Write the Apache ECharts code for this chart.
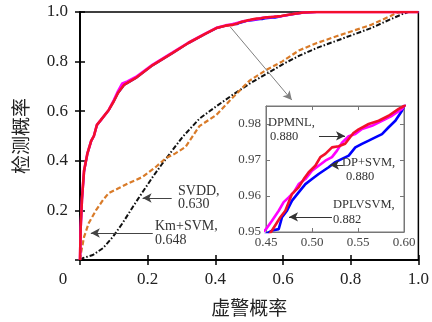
<!DOCTYPE html>
<html lang="zh-CN">
<head>
  <meta charset="UTF-8">
  <title>ROC 曲线</title>
  <script src="https://cdn.jsdelivr.net/npm/echarts@6.0.0/dist/echarts.min.js"></script>
  <style>
    html, body { margin: 0; padding: 0; background: #fff; }
    #chart { width: 432px; height: 322px; }
  </style>
</head>
<body>
  <div id="chart"></div>
  <script>
    // --- 数据 ---
    const insetXRange = [0.45, 0.60];
    const insetYRange = [0.95, 0.985];

    // DPMNL（品红）
    const dpmnlPts = [
      [0, 0], [0.002, 0.13], [0.006, 0.25], [0.012, 0.36], [0.022, 0.43], [0.033, 0.48],
      [0.041, 0.5], [0.05, 0.545], [0.062, 0.565], [0.085, 0.605], [0.1, 0.645], [0.112, 0.68],
      [0.125, 0.712], [0.14, 0.72], [0.165, 0.738], [0.215, 0.788], [0.274, 0.837], [0.32, 0.876],
      [0.37, 0.913], [0.403, 0.936], [0.43, 0.946],
      [0.45, 0.9508], [0.4565, 0.9531], [0.4638, 0.9559], [0.4692, 0.9583], [0.4746, 0.9596],
      [0.4801, 0.961], [0.4855, 0.9633], [0.4928, 0.9647], [0.5, 0.967], [0.5072, 0.9684],
      [0.5145, 0.9698], [0.5217, 0.9708], [0.5272, 0.9726], [0.5326, 0.9748], [0.5399, 0.9766],
      [0.5471, 0.9772], [0.5543, 0.9786], [0.5652, 0.9795], [0.5761, 0.9809], [0.587, 0.9823],
      [0.5978, 0.9842], [0.6, 0.985], [0.63, 0.992], [0.66, 0.998], [0.7, 1], [1, 1]
    ];
    // DP+SVM（蓝）
    const dpsvmPts = [
      [0, 0], [0.002, 0.125], [0.006, 0.245], [0.012, 0.355], [0.022, 0.43], [0.033, 0.478],
      [0.041, 0.5], [0.05, 0.543], [0.062, 0.564], [0.085, 0.604], [0.1, 0.64], [0.112, 0.672],
      [0.13, 0.705], [0.165, 0.733], [0.215, 0.785], [0.274, 0.834], [0.32, 0.874],
      [0.37, 0.911], [0.403, 0.934], [0.43, 0.944],
      [0.45, 0.9495], [0.4565, 0.9504], [0.4638, 0.9508], [0.4674, 0.9541], [0.4728, 0.9559],
      [0.4783, 0.9587], [0.4855, 0.961], [0.4928, 0.9633], [0.5, 0.9647], [0.5072, 0.9661],
      [0.5181, 0.968], [0.5254, 0.9694], [0.5326, 0.9703], [0.5399, 0.9712], [0.5471, 0.9735],
      [0.5543, 0.9745], [0.5616, 0.9754], [0.5688, 0.9763], [0.5761, 0.9772], [0.5833, 0.9791],
      [0.5906, 0.9809], [0.5978, 0.9837], [0.6, 0.985], [0.63, 0.991], [0.66, 0.997], [0.7, 1], [1, 1]
    ];
    // DPLVSVM（红）
    const dplvsvmPts = [
      [0, 0], [0.002, 0.13], [0.006, 0.25], [0.012, 0.36], [0.022, 0.43], [0.033, 0.48],
      [0.041, 0.5], [0.05, 0.545], [0.062, 0.565], [0.085, 0.605], [0.1, 0.64], [0.112, 0.673],
      [0.13, 0.706], [0.165, 0.734], [0.215, 0.786], [0.274, 0.835], [0.32, 0.875],
      [0.37, 0.912], [0.403, 0.935], [0.43, 0.945],
      [0.45, 0.948], [0.4565, 0.9504], [0.4656, 0.9541], [0.471, 0.9559], [0.4783, 0.9606],
      [0.4855, 0.9624], [0.491, 0.9647], [0.4964, 0.9666], [0.5036, 0.9684], [0.5091, 0.9708],
      [0.5145, 0.9717], [0.5217, 0.9735], [0.529, 0.9738], [0.536, 0.9745], [0.545, 0.9775],
      [0.5507, 0.9785], [0.5616, 0.98], [0.5725, 0.9809], [0.5833, 0.9823], [0.5942, 0.9842],
      [0.6, 0.985], [0.63, 0.992], [0.66, 0.998], [0.7, 1], [1, 1]
    ];
    // SVDD（橙色虚线）
    const svddPts = [
      [0, 0], [0.003, 0.028], [0.012, 0.093], [0.026, 0.149], [0.047, 0.2], [0.068, 0.242],
      [0.085, 0.27], [0.115, 0.29], [0.144, 0.31], [0.185, 0.335], [0.224, 0.375], [0.253, 0.41],
      [0.282, 0.43], [0.312, 0.456], [0.353, 0.54], [0.403, 0.585], [0.45, 0.653], [0.5, 0.722],
      [0.55, 0.766], [0.597, 0.8], [0.647, 0.845], [0.7, 0.875], [0.76, 0.903], [0.86, 0.948],
      [0.918, 0.984], [0.935, 0.996], [0.95, 1], [1, 1]
    ];
    // Km+SVM（黑色点划线）
    const kmsvmPts = [
      [0, 0], [0.009, 0.008], [0.038, 0.02], [0.068, 0.048], [0.097, 0.093], [0.126, 0.149],
      [0.156, 0.214], [0.185, 0.274], [0.215, 0.335], [0.244, 0.39], [0.274, 0.444], [0.303, 0.496],
      [0.353, 0.57], [0.403, 0.62], [0.45, 0.665], [0.5, 0.71], [0.55, 0.75], [0.6, 0.79],
      [0.65, 0.825], [0.7, 0.855], [0.76, 0.885], [0.82, 0.915], [0.86, 0.935], [0.92, 0.972],
      [0.95, 0.99], [0.97, 1], [1, 1]
    ];

    // 注释箭头（数据坐标）
    const mainArrows = [
      [[0.444, 0.94], [0.626, 0.645], '#808080'],
      [[0.271, 0.25], [0.185, 0.25], '#444'],
      [[0.215, 0.109], [0.032, 0.109], '#444']
    ];
    const insetArrows = [
      [[0.5076, 0.9767], [0.5359, 0.9767]],
      [[0.5337, 0.9686], [0.5196, 0.9686]],
      [[0.5217, 0.9542], [0.475, 0.9542]]
    ];

    const chart = echarts.init(document.getElementById('chart'), null, { renderer: 'canvas' });

    const SERIF = 'Liberation Serif';
    const CJK = 'Noto Sans CJK SC';
    const fmt1 = v => v.toFixed(1);

    const arrowLine = (pairs, defColor, z) => ({
      silent: true,
      z: z,
      symbol: ['none', 'arrow'],
      symbolSize: [7, 9],
      label: { show: false },
      emphasis: { disabled: true },
      data: pairs.map(p => [
        { coord: p[0], lineStyle: { color: p[2] || defColor, width: 1, type: 'solid' } },
        { coord: p[1] }
      ])
    });

    const mainAxisCommon = {
      min: 0, max: 1, interval: 0.2,
      axisLine: { show: true, lineStyle: { color: '#000', width: 1.5 } },
      axisTick: { inside: true, length: 5, lineStyle: { color: '#000', width: 1.5 } },
      splitLine: { show: false }
    };
    const insetXCommon = {
      gridIndex: 1, min: insetXRange[0], max: insetXRange[1], interval: 0.05, z: 11,
      axisLine: { show: true, lineStyle: { color: '#777', width: 1 } },
      axisTick: { inside: true, length: 4, lineStyle: { color: '#777' } },
      splitLine: { show: false }
    };
    const insetYCommon = {
      gridIndex: 1, min: insetYRange[0], max: insetYRange[1], interval: 0.01, z: 11,
      axisLine: { show: true, lineStyle: { color: '#777', width: 1 } },
      axisTick: { inside: true, length: 4, lineStyle: { color: '#777' } },
      splitLine: { show: false }
    };

    const line = (data, color, width, type, x, y, z, extra) => Object.assign({
      type: 'line', data, xAxisIndex: x, yAxisIndex: y, z,
      showSymbol: false, symbol: 'none', animation: false, clip: true,
      lineStyle: { color, width, type }
    }, extra || {});

    const option = {
      animation: false,
      backgroundColor: '#fff',
      grid: [
        { left: 80, top: 12, width: 340, height: 248, show: true, borderColor: '#000', borderWidth: 1.5, backgroundColor: 'transparent' },
        { left: 266, top: 106, width: 138, height: 126, show: true, z: 10, borderColor: '#777', borderWidth: 1, backgroundColor: '#fff' }
      ],
      xAxis: [
        Object.assign({}, mainAxisCommon, {
          gridIndex: 0, type: 'value', position: 'bottom',
          name: '虚警概率', nameLocation: 'middle', nameGap: 38,
          nameTextStyle: { fontFamily: CJK, fontSize: 19, color: '#222' },
          axisLabel: {
            margin: 11, fontFamily: SERIF, fontSize: 17, color: '#222',
            formatter: v => v === 0 ? '{o|0}' : fmt1(v),
            rich: { o: { fontFamily: SERIF, fontSize: 17, color: '#222', padding: [0, 34, 0, 0] } }
          }
        }),
        Object.assign({}, mainAxisCommon, { gridIndex: 0, type: 'value', position: 'top', axisLabel: { show: false } }),
        Object.assign({}, insetXCommon, {
          type: 'value', position: 'bottom',
          axisLabel: { margin: 4, fontFamily: SERIF, fontSize: 13, color: '#444', formatter: v => v.toFixed(2) }
        }),
        Object.assign({}, insetXCommon, { type: 'value', position: 'top', axisLabel: { show: false } })
      ],
      yAxis: [
        Object.assign({}, mainAxisCommon, {
          gridIndex: 0, type: 'value', position: 'left',
          name: '检测概率', nameLocation: 'middle', nameGap: 50, nameRotate: 90,
          nameTextStyle: { fontFamily: CJK, fontSize: 19, color: '#222' },
          axisLabel: { margin: 12, fontFamily: SERIF, fontSize: 17, color: '#222', formatter: v => v === 0 ? '' : fmt1(v) }
        }),
        Object.assign({}, mainAxisCommon, { gridIndex: 0, type: 'value', position: 'right', axisLabel: { show: false } }),
        Object.assign({}, insetYCommon, {
          type: 'value', position: 'left',
          axisLabel: {
            margin: 5, fontFamily: SERIF, fontSize: 13, color: '#444',
            formatter: v => Math.abs(v - insetYRange[1]) < 1e-6 ? '' : v.toFixed(2)
          }
        }),
        Object.assign({}, insetYCommon, { type: 'value', position: 'right', axisLabel: { show: false } })
      ],
      series: [
        // 主图
        line(kmsvmPts, '#111', 2, [5, 2, 1.5, 2], 0, 0, 2),
        line(svddPts, '#d97b29', 2.2, [5, 2.5], 0, 0, 3, { markLine: arrowLine(mainArrows, '#444', 8) }),
        line(dpsvmPts, '#0000ff', 2, 'solid', 0, 0, 4),
        line(dpmnlPts, '#ff00ff', 2.6, 'solid', 0, 0, 5),
        line(dplvsvmPts, '#f2102a', 2.6, 'solid', 0, 0, 6),
        // 局部放大
        line(dpsvmPts, '#0000ff', 2.6, 'solid', 2, 2, 12),
        line(dpmnlPts, '#ff00ff', 2.6, 'solid', 2, 2, 13),
        line(dplvsvmPts, '#f2102a', 2.6, 'solid', 2, 2, 14, { markLine: arrowLine(insetArrows, '#333', 30) })
      ],
      graphic: [
        { type: 'text', z: 100, x: 178, y: 191, style: { text: 'SVDD,', font: `14px "${SERIF}"`, fill: '#333', verticalAlign: 'middle' } },
        { type: 'text', z: 100, x: 178, y: 204, style: { text: '0.630', font: `14px "${SERIF}"`, fill: '#333', verticalAlign: 'middle' } },
        { type: 'text', z: 100, x: 155, y: 226, style: { text: 'Km+SVM,', font: `14px "${SERIF}"`, fill: '#333', verticalAlign: 'middle' } },
        { type: 'text', z: 100, x: 155, y: 240, style: { text: '0.648', font: `14px "${SERIF}"`, fill: '#333', verticalAlign: 'middle' } },
        { type: 'text', z: 100, x: 268, y: 123, style: { text: 'DPMNL,', font: `12.5px "${SERIF}"`, fill: '#333', verticalAlign: 'middle' } },
        { type: 'text', z: 100, x: 270, y: 137, style: { text: '0.880', font: `12.5px "${SERIF}"`, fill: '#333', verticalAlign: 'middle' } },
        { type: 'text', z: 100, x: 342, y: 163, style: { text: 'DP+SVM,', font: `12.5px "${SERIF}"`, fill: '#333', verticalAlign: 'middle' } },
        { type: 'text', z: 100, x: 346, y: 177, style: { text: '0.880', font: `12.5px "${SERIF}"`, fill: '#333', verticalAlign: 'middle' } },
        { type: 'text', z: 100, x: 333, y: 205, style: { text: 'DPLVSVM,', font: `12.5px "${SERIF}"`, fill: '#333', verticalAlign: 'middle' } },
        { type: 'text', z: 100, x: 333, y: 220, style: { text: '0.882', font: `12.5px "${SERIF}"`, fill: '#333', verticalAlign: 'middle' } }
      ]
    };

    chart.setOption(option);
  </script>
</body>
</html>
